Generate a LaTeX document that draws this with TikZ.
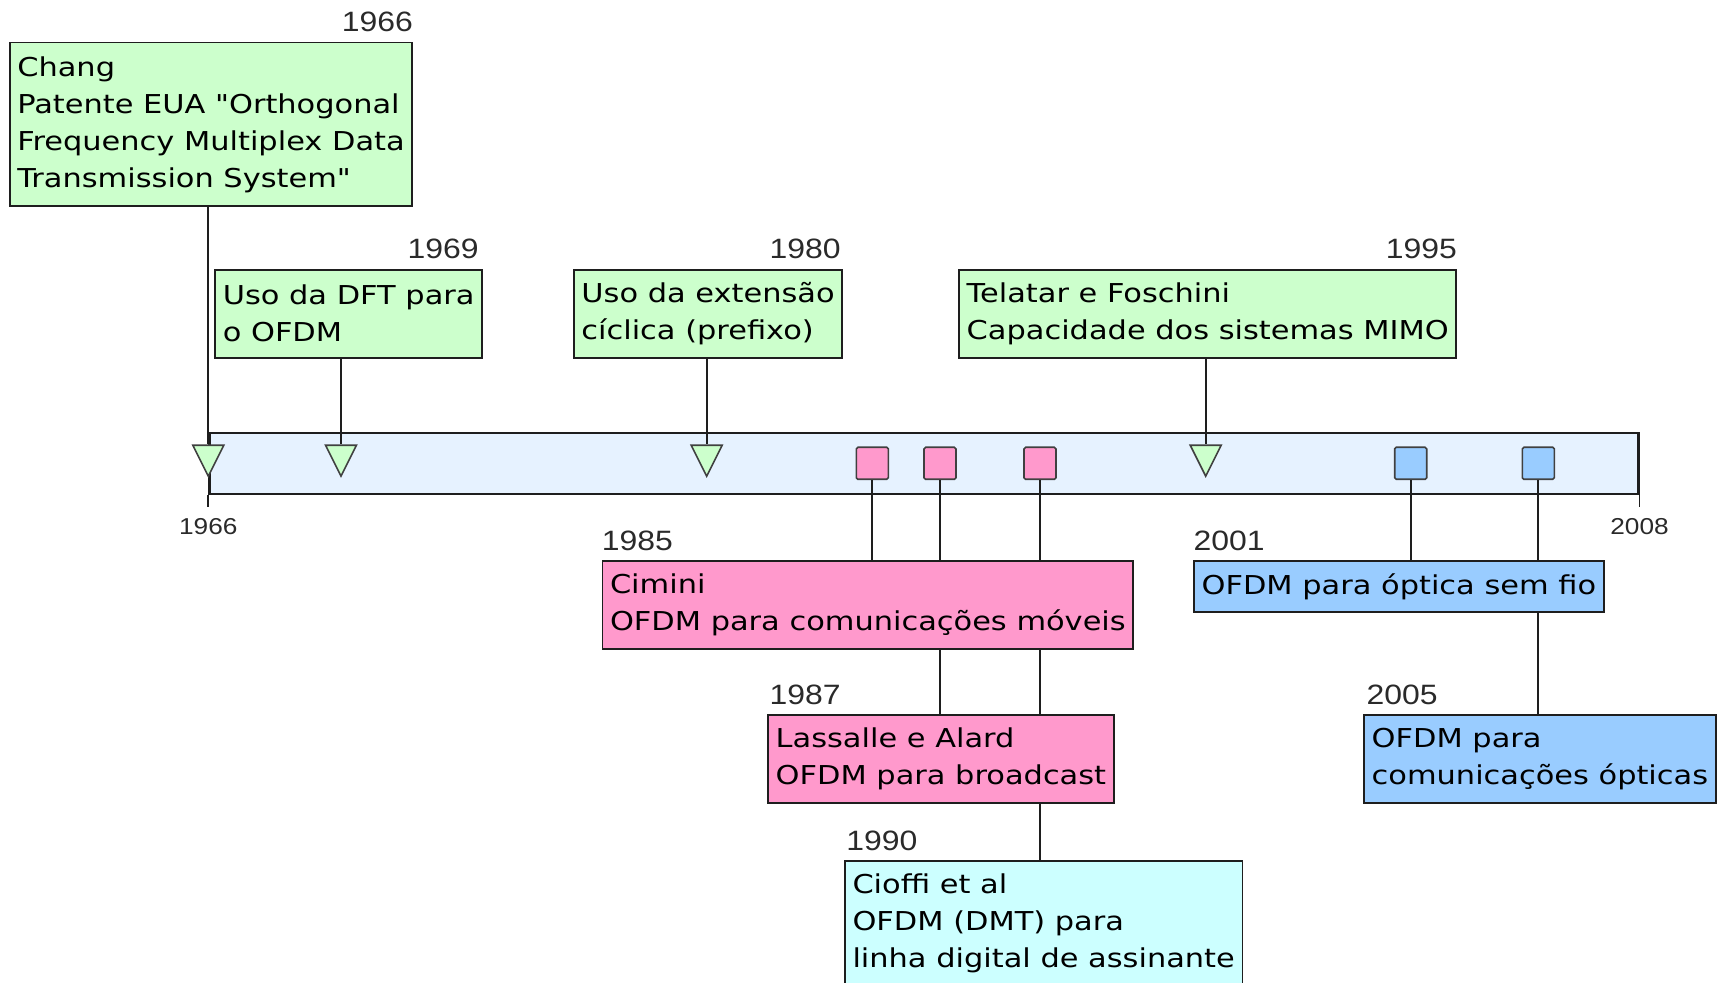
\documentclass[tikz,border=0pt]{standalone}
\usepackage{fontspec}
\setmainfont[FakeStretch=1.17,Ligatures=TeXOff]{DejaVu Sans}
\newfontfamily\yearfont[FakeStretch=1.14]{Liberation Sans}
\usetikzlibrary{positioning,shapes.geometric}
\definecolor{Ink}{HTML}{1E1E1E}
\definecolor{YearInk}{HTML}{2A2A2A}
\definecolor{Band}{HTML}{E6F2FF}
\definecolor{Early}{HTML}{CCFFCC}
\definecolor{Radio}{HTML}{FF99CC}
\definecolor{Wire}{HTML}{CCFFFF}
\definecolor{Optic}{HTML}{99CCFF}
\tikzset{
  event/.style={draw=Ink,line width=.9pt,align=left,anchor=north west,inner xsep=3.8pt,inner ysep=0pt,font=\fontsize{13}{18.5}\selectfont},
  early/.style={event,fill=Early},
  radio/.style={event,fill=Radio},
  wire/.style={event,fill=Wire},
  optic/.style={event,fill=Optic},
  twoline/.style={minimum height=43.9pt},
  year/.style={inner sep=0pt,text=YearInk,font=\yearfont\fontsize{14}{14}\selectfont},
  endyear/.style={inner sep=0pt,text=YearInk,font=\yearfont\fontsize{11.5}{11.5}\selectfont},
  band/.style={draw=Ink,fill=Band,line width=1.1pt,anchor=north west,minimum width=714.5pt,minimum height=30.5pt,inner sep=0pt},
  tri/.style={isosceles triangle,isosceles triangle stretches,shape border rotate=270,draw=Ink!85,fill=Early,line width=.8pt,minimum width=15.5pt,minimum height=15.5pt,inner sep=0pt,anchor=apex},
  sq/.style={rectangle,rounded corners=.8pt,draw=Ink!85,line width=.8pt,minimum width=16pt,minimum height=16pt,inner sep=0pt},
  link/.style={draw=Ink,line width=.9pt}
}
\begin{document}
\begin{tikzpicture}[x=.5pt,y=-.5pt]
  \useasboundingbox (0,0) rectangle (1721,983);
  \node[band] (bar) at (208.3,432) {};
  \node[endyear,below=11.5pt of bar.south west] (a1966) {1966};
  \node[endyear,below=11.5pt of bar.south east] (a2008) {2008};
  \draw[link,shorten >=5.5pt] (bar.south west) -- (a1966);
  \draw[link,shorten >=5.5pt] (bar.south east) -- (a2008);

  \node[tri] (m1966) at (208.3,478.3) {};
  \node[tri] (m1969) at (341,478.3) {};
  \node[tri] (m1980) at (706.7,478.3) {};
  \node[tri] (m1995) at (1205.7,478.3) {};
  \node[sq,fill=Radio] (m1985) at (872.3,463.3) {};
  \node[sq,fill=Radio] (m1987) at (940,463.3) {};
  \node[sq,fill=Radio] (m1990) at (1040,463.3) {};
  \node[sq,fill=Optic] (m2001) at (1410.7,463.3) {};
  \node[sq,fill=Optic] (m2005) at (1538.3,463.3) {};

  \node[early,minimum height=81.75pt] (chang) at (8.8,41.7) {Chang\\Patente EUA "Orthogonal\\Frequency Multiplex Data\\Transmission System"};
  \node[early,twoline] (dft) at (214.3,269) {Uso da DFT para\\o OFDM};
  \node[early,twoline] (prefixo) at (572.9,269) {Uso da extensão\\cíclica (prefixo)};
  \node[early,twoline] (mimo) at (958.2,269) {Telatar e Foschini\\Capacidade dos sistemas MIMO};
  \node[radio,twoline] (cimini) at (601.5,560.5) {Cimini\\OFDM para comunicações móveis};
  \node[radio,twoline] (broadcast) at (767.2,714.5) {Lassalle e Alard\\OFDM para broadcast};
  \node[wire,minimum height=62.4pt] (dmt) at (844,860.5) {Cioffi et al\\OFDM (DMT) para\\linha digital de assinante};
  \node[optic,minimum height=25.25pt] (wireless) at (1193.1,560.5) {OFDM para óptica sem fio};
  \node[optic,twoline] (optical) at (1363.2,714.5) {OFDM para\\comunicações ópticas};

  \node[year,above left=5pt and 0pt of chang.north east] (y1966) {1966};
  \node[year,above left=5pt and 2pt of dft.north east] (y1969) {1969};
  \node[year,above left=5pt and 1pt of prefixo.north east] (y1980) {1980};
  \node[year,above left=5pt and 0pt of mimo.north east] (y1995) {1995};
  \node[year,above right=4.5pt and 0pt of cimini.north west] (y1985) {1985};
  \node[year,above right=4.5pt and 1pt of broadcast.north west] (y1987) {1987};
  \node[year,above right=4.5pt and 1pt of dmt.north west] (y1990) {1990};
  \node[year,above right=4.5pt and 0pt of wireless.north west] (y2001) {2001};
  \node[year,above right=4.5pt and 1.5pt of optical.north west] (y2005) {2005};

  \draw[link] (chang.south -| m1966) -- (m1966.north);
  \draw[link] (dft.south -| m1969) -- (m1969.north);
  \draw[link] (prefixo.south -| m1980) -- (m1980.north);
  \draw[link] (mimo.south -| m1995) -- (m1995.north);
  \draw[link] (m1985.south) -- (cimini.north -| m1985);
  \draw[link] (m1987.south) -- (cimini.north -| m1987)
    (cimini.south -| m1987) -- (broadcast.north -| m1987);
  \draw[link] (m1990.south) -- (cimini.north -| m1990)
    (cimini.south -| m1990) -- (broadcast.north -| m1990)
    (broadcast.south -| m1990) -- (dmt.north -| m1990);
  \draw[link] (m2001.south) -- (wireless.north -| m2001);
  \draw[link] (m2005.south) -- (wireless.north -| m2005)
    (wireless.south -| m2005) -- (optical.north -| m2005);
\end{tikzpicture}
\end{document}
